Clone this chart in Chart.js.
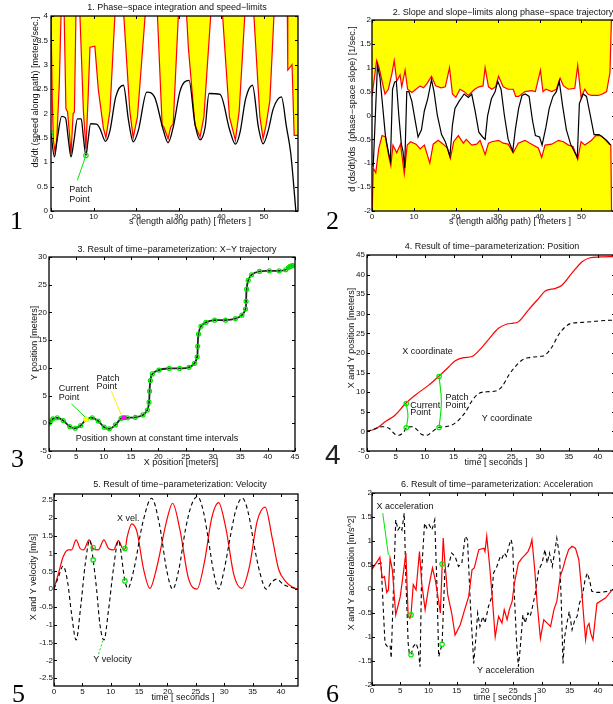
<!DOCTYPE html>
<html>
<head>
<meta charset="utf-8">
<script src="https://cdn.jsdelivr.net/npm/chart.js@4.4.1/dist/chart.umd.min.js"></script>
<style>
html, body { margin: 0; padding: 0; background: #fff; }
body { width: 613px; height: 704px; overflow: hidden; position: relative; }
canvas { position: absolute; }
.num { position: absolute; font-family: "Liberation Serif", "Times New Roman", serif; font-size: 26px; line-height: 26px; color: #000; }
</style>
</head>
<body>
<canvas id="c1" width="306" height="235" style="left:0;top:0"></canvas>
<canvas id="c2" width="320" height="235" style="left:306px;top:0"></canvas>
<canvas id="c3" width="306" height="235" style="left:0;top:235px"></canvas>
<canvas id="c4" width="320" height="235" style="left:306px;top:235px"></canvas>
<canvas id="c5" width="306" height="234" style="left:0;top:470px"></canvas>
<canvas id="c6" width="320" height="234" style="left:306px;top:470px"></canvas>
<div class="num" style="left:10px;top:208px">1</div>
<div class="num" style="left:326px;top:208px">2</div>
<div class="num" style="left:11px;top:446px">3</div>
<div class="num" style="left:325px;top:442px;font-family:'Liberation Sans',Arial,sans-serif;font-size:28px;color:#222">4</div>
<div class="num" style="left:12px;top:681px">5</div>
<div class="num" style="left:326px;top:681px">6</div>
<script>
// ---- panel 1: speed along path vs s ----
const p1Speed = [[0,1.6],[0.8,1.11],[1.5,1.5],[2.5,1.94],[3.4,1.91],[4.1,1.45],[4.7,1.11],[5.4,1.45],[6.2,1.89],[7.1,1.89],[7.6,1.52],[8.2,1.14],[8.7,1.45],[9.3,1.79],[10.7,1.78],[11.5,1.69],[12.8,1.43],[13.85,1.65],[15.2,2.34],[17.0,2.58],[18.2,1.86],[19.3,1.42],[20.5,1.65],[22.5,2.44],[24.3,2.34],[26.4,1.65],[27.5,1.40],[28.7,1.72],[30.3,2.46],[32.4,2.68],[33.8,1.79],[35.0,1.46],[36.2,1.72],[37.1,2.41],[39.7,2.39],[42.0,1.65],[43.3,1.37],[44.4,1.62],[45.7,2.30],[47.3,2.58],[48.7,1.72],[49.8,1.38],[51.0,1.65],[52.2,2.10],[54.1,2.34],[55.3,1.72],[56.3,1.18],[57.5,0]];
const p1Limit = [[0,4],[0.3,2.27],[0.55,1.45],[0.95,1.21],[1.35,1.45],[1.95,2.61],[2.35,4],[2.7,6],[3.1,4],[3.5,2.1],[3.9,2.03],[4.7,1.18],[5.2,2.0],[5.5,2.03],[5.85,4],[6.35,6],[6.8,4],[7.6,2.06],[8.2,1.28],[8.7,2.3],[9.15,3.36],[10.3,3.38],[11.1,2.5],[12.3,1.7],[12.9,1.5],[13.85,2.06],[15.0,4],[16.0,6],[17.1,4],[18.5,2.06],[19.3,1.5],[20.3,1.93],[22.1,4],[23.5,6],[25.0,4],[26.1,1.76],[26.5,1.72],[27.5,1.48],[28.1,1.72],[28.7,1.79],[29.9,4],[30.9,6],[31.85,4],[32.25,3.36],[33.8,1.76],[35.0,1.52],[35.9,1.93],[37.5,4],[38.9,6],[40.3,4],[41.9,1.93],[43.3,1.45],[44.2,2.06],[45.5,4],[46.6,6],[47.65,4],[49.05,1.93],[49.8,1.48],[50.5,1.76],[51.4,2.27],[52.35,4],[53.9,6],[55.5,4],[55.6,2.89],[56.6,3.0],[57.1,1.55],[58,1.55]];
const p1Marks = [[0,1.6],[8.2,1.14]];
const p1Pointer = [[8.2,1.14],[6.2,0.63]];
const p1XTicks = [0,10,20,30,40,50];
const p1YTicks = [0,0.5,1,1.5,2,2.5,3,3.5,4];

// ---- panel 2: slope and slope limits ----
const p2Upper = [[0,0.4],[1.1,1.15],[1.7,1.0],[2.4,0.72],[3.1,0.45],[3.9,0.55],[4.8,0.9],[5.3,1.15],[5.9,0.72],[6.7,0.85],[7.1,0.6],[7.9,0.95],[8.5,0.55],[9.5,0.48],[10.5,0.55],[11.5,0.62],[12.3,0.58],[13.2,0.68],[14.2,0.82],[15.2,0.62],[16.5,0.58],[17.5,0.6],[18.5,1.0],[19.2,0.45],[20.0,0.38],[21.0,0.55],[22.0,0.5],[23.0,0.42],[24.5,0.55],[25.5,0.6],[26.5,0.62],[27.0,1.0],[27.8,0.6],[28.6,0.55],[29.5,0.6],[30.2,0.82],[31.3,0.6],[32.5,0.55],[33.7,0.55],[34.3,0.4],[35.0,0.4],[36.5,0.5],[38.1,0.52],[39.0,0.5],[40.2,0.95],[40.8,0.5],[41.5,0.55],[42.9,0.5],[44.0,0.55],[44.9,0.78],[45.7,0.62],[46.9,0.55],[48.4,0.57],[49.1,1.05],[49.9,0.38],[50.8,0.55],[51.5,0.45],[52.4,0.42],[54.0,0.42],[55.0,0.45],[56.0,0.5],[56.8,0.9],[57.2,2.2]];
const p2Lower = [[0,-2.2],[0.3,-1.1],[0.9,-1.2],[1.6,-0.7],[2.4,-0.42],[3.2,-0.45],[4.0,-0.85],[4.5,-1.05],[5.0,-0.62],[5.9,-0.78],[6.8,-0.6],[7.7,-1.22],[8.4,-0.62],[9.2,-0.55],[10.5,-0.6],[11.5,-0.7],[12.5,-0.62],[13.8,-1.0],[14.6,-0.6],[15.8,-0.52],[17.0,-0.6],[18.0,-0.68],[18.7,-0.9],[19.5,-0.55],[20.6,-0.42],[21.8,-0.58],[22.5,-0.5],[23.8,-0.62],[25.0,-0.6],[25.8,-0.52],[27.0,-0.82],[27.8,-0.58],[28.6,-0.55],[30.2,-0.52],[31.3,-0.58],[32.5,-0.6],[33.7,-0.78],[34.9,-0.58],[36.5,-0.52],[38.1,-0.6],[39.7,-0.68],[40.5,-0.88],[41.3,-0.62],[42.9,-0.6],[44.5,-0.52],[45.7,-0.55],[46.9,-0.62],[48.0,-0.65],[49.1,-0.92],[49.9,-0.55],[50.8,-0.62],[52.4,-0.52],[53.4,-0.42],[54.6,-0.42],[55.6,-0.5],[56.6,-0.6],[57.0,-0.62],[57.2,-2.2]];
const p2Slope = [[0,-1.0],[0.3,-1.05],[1.3,1.05],[1.9,0.8],[3.2,-0.42],[3.6,-0.62],[4.0,-0.8],[4.4,-0.95],[4.9,0.55],[5.4,0.7],[5.8,0.72],[6.4,0.0],[7.0,-0.6],[7.4,-0.75],[7.8,-1.1],[8.3,0.5],[8.8,0.5],[9.5,0.3],[10.3,-0.1],[11.0,-0.45],[11.8,-0.3],[12.5,0.1],[13.3,0.35],[14.2,0.75],[14.8,0.5],[15.6,0.0],[16.6,-0.4],[17.5,-0.55],[18.6,-0.85],[19.2,-0.2],[19.8,0.15],[20.8,0.3],[22.0,0.45],[23.0,0.38],[23.8,0.45],[24.6,0.1],[25.5,-0.35],[26.4,-0.45],[27.0,-0.5],[27.6,0.0],[28.5,0.35],[29.4,0.5],[30.0,0.72],[30.8,0.55],[31.6,0.0],[32.5,-0.5],[33.6,-0.75],[34.2,-0.3],[35.0,0.15],[35.8,0.42],[36.6,0.45],[37.5,0.4],[38.3,-0.1],[39.0,-0.42],[40.0,-0.45],[40.6,-0.62],[41.5,-0.25],[42.3,0.15],[43.2,0.4],[44.0,0.5],[44.7,0.72],[45.5,0.2],[46.4,-0.3],[47.4,-0.6],[49.0,-0.88],[49.5,0.25],[50.4,0.45],[51.2,0.4],[52.0,0.05],[53.0,-0.4],[54.2,-0.4],[55.0,-0.45],[56.0,-0.52],[57.0,-0.62]];
const p2XTicks = [0,10,20,30,40,50];
const p2YTicks = [-2,-1.5,-1,-0.5,0,0.5,1,1.5,2];

// ---- panel 3: X-Y trajectory (samples at constant time intervals) ----
const p3Path = [[0,0],[0.25,0.3],[0.7,0.8],[1.5,1.0],[2.6,0.5],[3.8,-0.6],[4.8,-0.9],[5.8,-0.4],[6.8,0.7],[7.9,1.0],[9.0,0.4],[10.1,-0.7],[11.05,-1.0],[12.15,-0.3],[13.2,0.9],[13.7,1.0],[14.35,1.0],[15.8,1.07],[17.2,1.5],[18.0,2.4],[18.3,3.8],[18.4,5.8],[18.55,7.7],[18.9,8.9],[20.1,9.6],[22.0,9.9],[23.9,9.9],[25.6,10.1],[26.6,10.8],[27.1,12.0],[27.2,13.9],[27.35,16.1],[27.8,17.5],[28.7,18.2],[30.3,18.6],[32.3,18.6],[34.1,18.9],[35.3,19.5],[35.95,20.6],[36.05,22.0],[36.15,24.2],[36.45,25.8],[37.05,26.8],[38.5,27.4],[40.3,27.5],[42.1,27.5],[43.3,27.7],[43.8,28.1],[44.1,28.3],[44.4,28.4],[44.6,28.45]];
const p3Current = [[6.8,0.7]];
const p3Patch = [[13.7,1.0]];
const p3CurrentPointer = [[4.1,3.5],[6.95,0.8]];
const p3PatchPointer = [[11.4,5.8],[13.4,1.1]];
const p3XTicks = [0,5,10,15,20,25,30,35,40,45];
const p3YTicks = [-5,0,5,10,15,20,25,30];

// ---- panel 4: position vs time ----
const p4X = [[0,0],[1.7,0.8],[3.2,2.5],[4.9,4.2],[6.6,7.0],[8.4,9.3],[10.7,11.8],[12.4,14.0],[14.2,16.5],[15.3,18.0],[16.8,18.8],[18.2,19.1],[19.4,20.6],[21.1,23.5],[22.8,26.3],[24.3,27.4],[25.4,27.6],[26.3,28.0],[28.0,31.0],[29.8,34.0],[30.9,35.8],[32.7,36.5],[33.8,37.3],[35.5,40.3],[37.3,43.3],[38.7,44.3],[40.2,44.5],[43,44.6]];
const p4Y = [[0,0],[0.9,0.4],[2.6,1.2],[3.8,0.8],[4.9,-0.8],[5.5,-1.0],[6.4,-0.1],[6.9,1.0],[7.8,1.2],[8.7,0.4],[9.5,-0.8],[10.4,-1.0],[11.3,-0.1],[12.4,1.0],[13.6,1.2],[14.7,1.6],[15.9,2.9],[17.1,5.0],[18.2,7.8],[19.4,9.7],[20.8,10.1],[22.3,10.3],[23.4,11.4],[24.6,14.4],[25.7,16.5],[26.9,18.2],[28.0,18.8],[29.8,19.1],[30.9,19.5],[32.1,21.6],[33.2,24.6],[34.4,26.7],[35.5,27.6],[37.3,27.8],[39.0,28.0],[40.2,28.2],[43,28.4]];
const p4Marks = [[6.8,7.1],[6.8,0.95],[12.5,14.0],[12.5,1.0]];
const p4CurrentLink = [[6.8,7.1],[7.1,4.0],[6.8,0.95]];
const p4PatchLink = [[12.5,14.0],[12.9,7.5],[12.5,1.0]];
const p4XTicks = [0,5,10,15,20,25,30,35,40];
const p4YTicks = [-5,0,5,10,15,20,25,30,35,40,45];

// ---- panel 5: velocity vs time ----
const p5X = [[0,0.02],[0.8,0.45],[1.65,0.92],[2.5,1.1],[3.1,1.1],[3.9,1.38],[4.6,1.14],[5.2,1.1],[6.2,1.38],[6.9,1.14],[7.8,1.1],[8.8,1.38],[9.6,1.14],[10.5,1.1],[11.35,1.36],[12.1,1.14],[12.5,1.12],[12.9,1.47],[13.7,1.83],[14.6,1.62],[15.8,0.55],[16.9,0.02],[18.1,0.6],[19.9,1.95],[20.9,2.41],[22.2,1.66],[23.7,0.3],[25.2,0.0],[26.5,0.75],[27.8,2.0],[29.0,2.43],[30.3,1.7],[31.7,0.4],[33.1,0.02],[34.4,0.6],[35.8,1.9],[37.2,2.3],[38.5,1.4],[39.6,0.55],[40.8,0.22],[42,0.06],[43,0.0]];
const p5Y = [[0,0],[0.8,0.35],[1.6,0.65],[2.4,0.2],[3.1,-0.7],[3.9,-1.43],[4.7,-0.5],[5.5,0.7],[6.3,1.38],[6.9,0.82],[7.5,0.0],[8.1,-1.0],[8.8,-1.43],[9.6,-0.6],[10.5,0.6],[11.35,1.36],[12.5,0.23],[13.0,0.02],[14.0,0.5],[15.7,1.9],[17.2,2.55],[18.6,1.8],[19.9,0.5],[20.9,0.0],[22.0,0.55],[23.2,1.7],[24.2,2.35],[25.3,2.6],[26.3,2.2],[27.2,1.4],[28.1,0.5],[29.0,0.0],[30.0,0.55],[31.1,1.5],[32.1,2.25],[33.2,2.55],[34.3,2.1],[35.3,1.2],[36.3,0.45],[37.4,0.0],[38.4,0.2],[39.2,0.28],[40.5,0.12],[42,0.04],[43,0.0]];
const p5Marks = [[6.9,1.17],[6.9,0.82],[12.5,1.14],[12.5,0.23]];
const p5Pointer = [[8.6,-1.45],[7.8,-1.85]];
const p5XTicks = [0,5,10,15,20,25,30,35,40];
const p5YTicks = [-2.5,-2,-1.5,-1,-0.5,0,0.5,1,1.5,2,2.5];

// ---- panel 6: acceleration vs time ----
const p6X = [[0,0.41],[1.4,0.66],[1.8,0.23],[2.2,0.26],[2.6,-0.07],[2.9,-0.02],[3.2,0.64],[3.6,0.4],[4.2,-0.54],[5.0,-0.16],[5.7,0.47],[6.0,0.75],[6.4,-0.57],[6.7,-0.61],[6.9,-0.54],[7.3,0.09],[7.8,-0.02],[8.4,0.78],[8.8,0.12],[9.4,-0.43],[10.0,0.02],[10.7,0.44],[11.2,0.19],[11.8,-0.26],[12.1,-0.5],[12.6,1.06],[12.9,0.54],[13.4,-0.12],[14.1,-0.5],[14.7,-0.96],[15.6,-0.75],[16.4,-0.43],[17.1,-0.16],[17.7,0.4],[18.1,0.44],[18.9,0.82],[19.8,0.85],[20.0,0.78],[20.3,1.1],[20.8,0.5],[21.2,-0.05],[21.8,-1.0],[22.4,-0.57],[23.0,-0.71],[23.4,-0.43],[23.9,-0.64],[24.3,-0.43],[24.8,-0.26],[25.2,0.12],[25.9,0.54],[26.5,0.64],[27.1,0.71],[27.6,0.78],[28.0,0.89],[28.3,1.03],[28.8,0.4],[29.2,-0.26],[29.8,-1.03],[30.4,-0.64],[31.0,-0.71],[31.6,-0.78],[32.2,-0.43],[32.7,-0.26],[33.3,0.26],[33.9,0.47],[34.2,0.61],[34.8,0.82],[35.4,0.89],[36.0,0.85],[36.6,0.61],[37.1,-0.02],[37.5,-0.64],[37.8,-1.06],[38.1,-0.78],[38.4,-0.72],[38.7,-0.92],[39.1,-1.06],[39.8,-0.3],[41.3,-0.19],[42.5,-0.02],[43,0.0]];
const p6Y = [[0,0.45],[0.5,0.5],[1.6,0.54],[2.3,-1.13],[2.7,-1.2],[3.2,-1.17],[3.4,-1.44],[4.2,1.44],[4.6,1.23],[5.0,1.3],[5.3,1.23],[5.7,1.58],[6.0,0.19],[6.4,-1.13],[6.6,-1.34],[6.9,-1.37],[7.3,-1.2],[7.8,-1.13],[8.2,-1.27],[8.5,-1.62],[8.8,0.4],[9.3,1.37],[9.7,1.27],[10.1,1.34],[10.6,1.23],[11.1,1.44],[11.5,0.05],[11.8,-1.41],[12.4,-1.15],[12.9,0.4],[13.5,0.47],[14.1,0.75],[14.7,0.68],[15.3,0.47],[15.9,0.54],[16.5,1.1],[16.9,1.03],[17.4,-0.3],[17.7,-0.92],[18.0,-1.55],[18.4,-0.99],[18.7,-0.5],[19.1,-0.78],[19.6,-0.57],[20.0,-0.71],[20.6,-0.37],[21.2,-0.16],[21.5,0.33],[22.1,0.47],[22.7,0.68],[23.0,0.64],[23.4,0.75],[23.8,0.68],[24.2,0.89],[24.6,1.03],[24.9,0.89],[25.2,-0.16],[25.6,-1.13],[25.9,-1.62],[26.2,-1.27],[26.7,-0.54],[27.1,-0.71],[27.6,-0.5],[28.0,-0.57],[28.4,-0.37],[28.9,-0.09],[29.5,0.4],[30.1,0.54],[30.6,0.82],[31.0,0.54],[31.4,0.75],[31.9,0.47],[32.3,0.75],[32.7,1.06],[33.2,0.68],[33.5,-0.3],[33.8,-1.55],[34.1,-0.99],[34.5,-0.71],[34.9,-0.47],[35.4,-0.85],[35.9,-0.64],[36.3,-0.57],[36.7,-0.3],[37.2,-0.16],[37.7,0.19],[38.1,0.33],[38.5,0.19],[38.9,-0.05],[39.5,-0.07],[40.4,-0.07],[41.6,-0.05],[42.5,-0.02],[43,0.0]];
const p6Marks = [[6.9,-0.54],[6.9,-1.37],[12.4,0.52],[12.4,-1.15]];
const p6Pointer = [[1.9,1.58],[2.9,0.71]];
const p6XTicks = [0,5,10,15,20,25,30,35,40];
const p6YTicks = [-2,-1.5,-1,-0.5,0,0.5,1,1.5,2];

const FONT = '"Liberation Sans", Arial, Helvetica, sans-serif';
const RED = '#ff0000', GREEN = '#00e600', YELLOW = '#ffff00', BLACK = '#000000';

function pts(a) { return a.map(p => ({ x: p[0], y: p[1] })); }

function line(data, color, extra) {
  return Object.assign({ data: pts(data), borderColor: color, backgroundColor: color,
    borderWidth: 1.2, pointRadius: 0, fill: false, tension: 0 }, extra || {});
}

function marks(data, color, r, filled, style) {
  return { data: pts(data), showLine: false, pointRadius: r, pointStyle: style || 'circle',
    pointBorderColor: color, pointBackgroundColor: filled ? color : 'rgba(0,0,0,0)',
    pointBorderWidth: 1.2, borderColor: color, backgroundColor: color };
}

// box, inward ticks on all four sides, title, axis labels and notes
function decor(cfg) {
  return {
    id: 'decor',
    afterDraw(chart) {
      const ctx = chart.ctx, a = chart.chartArea, xs = chart.scales.x, ys = chart.scales.y;
      ctx.save();
      ctx.strokeStyle = '#000';
      ctx.lineWidth = 1;
      ctx.beginPath();
      xs.ticks.forEach(t => {
        const p = Math.round(xs.getPixelForValue(t.value)) + 0.5;
        ctx.moveTo(p, a.bottom); ctx.lineTo(p, a.bottom - 3);
        ctx.moveTo(p, a.top); ctx.lineTo(p, a.top + 3);
      });
      ys.ticks.forEach(t => {
        const p = Math.round(ys.getPixelForValue(t.value)) + 0.5;
        ctx.moveTo(a.left, p); ctx.lineTo(a.left + 3, p);
        ctx.moveTo(a.right, p); ctx.lineTo(a.right - 3, p);
      });
      ctx.stroke();
      ctx.lineWidth = 1.3;
      ctx.strokeRect(a.left, a.top, a.right - a.left, a.bottom - a.top);

      ctx.fillStyle = '#111';
      ctx.font = '9px ' + FONT;
      ctx.textAlign = 'center';
      ctx.textBaseline = 'middle';
      ctx.fillText(cfg.title, cfg.titlePos[0], cfg.titlePos[1]);
      ctx.fillText(cfg.xLabel, cfg.xLabelPos[0], cfg.xLabelPos[1]);
      ctx.save();
      ctx.translate(cfg.yLabelPos[0], cfg.yLabelPos[1]);
      ctx.rotate(-Math.PI / 2);
      ctx.fillText(cfg.yLabel, 0, 0);
      ctx.restore();
      ctx.textAlign = 'left';
      (cfg.notes || []).forEach(n => {
        ctx.fillText(n[0], xs.getPixelForValue(n[1]), ys.getPixelForValue(n[2]));
      });
      ctx.restore();
    }
  };
}

function axis(min, max, tickVals, pad, fitFn) {
  return {
    type: 'linear', min: min, max: max,
    grid: { display: false, drawTicks: false, tickLength: 0 }, border: { display: false },
    afterBuildTicks: s => { s.ticks = tickVals.map(v => ({ value: v })); },
    afterFit: fitFn,
    ticks: { padding: pad, font: { size: 8, family: FONT }, color: '#111',
      maxRotation: 0, autoSkip: false, callback: v => String(Math.round(v * 100) / 100) }
  };
}

function makeChart(id, datasets, ax, cfg) {
  new Chart(document.getElementById(id), {
    type: 'line',
    data: { datasets: datasets },
    options: {
      responsive: false, animation: false, events: [],
      layout: { padding: { top: ax.top, right: ax.right, left: 0, bottom: 0 } },
      plugins: { legend: { display: false }, tooltip: { enabled: false }, title: { display: false } },
      scales: {
        x: axis(ax.xMin, ax.xMax, ax.xTicks, 1, s => { s.height = ax.bottom; }),
        y: axis(ax.yMin, ax.yMax, ax.yTicks, ax.yPad, s => { s.width = ax.left; })
      }
    },
    plugins: [decor(cfg)]
  });
}

// panel 1
makeChart('c1', [
  marks(p1Marks, GREEN, 2.2, false),
  line(p1Pointer, GREEN, { borderWidth: 1 }),
  line(p1Speed, BLACK, { borderWidth: 1.3, cubicInterpolationMode: 'monotone' }),
  line(p1Limit, RED, { fill: 'end', backgroundColor: YELLOW })
], { left: 51, top: 16, right: 8, bottom: 24, yPad: 3,
     xMin: 0, xMax: 58, xTicks: p1XTicks, yMin: 0, yMax: 4, yTicks: p1YTicks },
{ title: '1. Phase\u2212space integration and speed\u2212limits', titlePos: [177, 8],
  xLabel: 's (length along path) [ meters ]', xLabelPos: [190, 222],
  yLabel: 'ds/dt (speed along path) [meters/sec.]', yLabelPos: [36, 92],
  notes: [['Patch', 4.3, 0.45], ['Point', 4.3, 0.24]] });

// panel 2
makeChart('c2', [
  line(p2Slope, BLACK, { borderWidth: 1.2 }),
  line(p2Upper, RED, { fill: 'end', backgroundColor: YELLOW }),
  line(p2Lower, RED, { fill: 'start', backgroundColor: YELLOW })
], { left: 66, top: 20, right: 11, bottom: 24, yPad: 1,
     xMin: 0, xMax: 58, xTicks: p2XTicks, yMin: -2, yMax: 2, yTicks: p2YTicks },
{ title: '2. Slope and slope\u2212limits along phase\u2212space trajectory', titlePos: [197, 13],
  xLabel: 's (length along path) [ meters ]', xLabelPos: [204, 222],
  yLabel: 'd (ds/dt)/ds  (phase\u2212space slope) [1/sec.]', yLabelPos: [47, 109] });

// panel 3
makeChart('c3', [
  marks(p3Current, '#ffff00', 2.5, true, 'rect'),
  marks(p3Patch, '#ff00ff', 2.5, true, 'rect'),
  line(p3CurrentPointer, GREEN, { borderWidth: 1 }),
  line(p3PatchPointer, '#ffee00', { borderWidth: 1 }),
  marks(p3Path, GREEN, 2, false),
  line(p3Path, '#222222', { borderWidth: 1.8, tension: 0.4 })
], { left: 49, top: 22, right: 11, bottom: 19, yPad: 2,
     xMin: 0, xMax: 45, xTicks: p3XTicks, yMin: -5, yMax: 30, yTicks: p3YTicks },
{ title: '3. Result of time\u2212parameterization: X\u2212Y trajectory', titlePos: [177, 15],
  xLabel: 'X position [meters]', xLabelPos: [181, 228],
  yLabel: 'Y position [meters]', yLabelPos: [35, 108],
  notes: [['Current', 1.8, 6.2], ['Point', 1.8, 4.6], ['Patch', 8.7, 8.1], ['Point', 8.7, 6.6],
          ['Position shown at constant time intervals', 4.9, -2.7]] });

// panel 4
makeChart('c4', [
  marks(p4Marks, GREEN, 2.2, false),
  line(p4CurrentLink, GREEN, { borderWidth: 1.1, tension: 0.4 }),
  line(p4PatchLink, GREEN, { borderWidth: 1.1, tension: 0.4 }),
  line(p4Y, BLACK, { borderWidth: 1.1, borderDash: [4, 3], cubicInterpolationMode: 'monotone' }),
  line(p4X, RED, { borderWidth: 1.2, cubicInterpolationMode: 'monotone' })
], { left: 61, top: 20, right: 11, bottom: 19, yPad: 2,
     xMin: 0, xMax: 43, xTicks: p4XTicks, yMin: -5, yMax: 45, yTicks: p4YTicks },
{ title: '4. Result of time\u2212parameterization: Position', titlePos: [186, 12],
  xLabel: 'time [ seconds ]', xLabelPos: [190, 228],
  yLabel: 'X and Y position [meters]', yLabelPos: [46, 103],
  notes: [['X coordinate', 6.1, 20.3], ['Current', 7.5, 6.7], ['Point', 7.5, 4.7],
          ['Patch', 13.6, 8.6], ['Point', 13.6, 6.6], ['Y coordinate', 19.9, 3.3]] });

// panel 5
makeChart('c5', [
  marks(p5Marks, GREEN, 2.2, false),
  line(p5Pointer, GREEN, { borderWidth: 1, borderDash: [2, 2] }),
  line(p5Y, BLACK, { borderWidth: 1.1, borderDash: [4, 3], cubicInterpolationMode: 'monotone' }),
  line(p5X, RED, { borderWidth: 1.2, cubicInterpolationMode: 'monotone' })
], { left: 54, top: 24, right: 8, bottom: 18, yPad: 1,
     xMin: 0, xMax: 43, xTicks: p5XTicks, yMin: -2.72, yMax: 2.67, yTicks: p5YTicks },
{ title: '5. Result of time\u2212parameterization: Velocity', titlePos: [180, 15],
  xLabel: 'time [ seconds ]', xLabelPos: [183, 228],
  yLabel: 'X and Y velocity [m/s]', yLabelPos: [34, 107],
  notes: [['X vel.', 11.1, 1.99], ['Y velocity', 6.9, -1.99]] });

// panel 6
makeChart('c6', [
  marks(p6Marks, GREEN, 2.2, false),
  line(p6Pointer, GREEN, { borderWidth: 1 }),
  line(p6X, RED, { borderWidth: 1.2 }),
  line(p6Y, BLACK, { borderWidth: 1.1, borderDash: [4, 3] })
], { left: 66, top: 23, right: 11, bottom: 19, yPad: 0,
     xMin: 0, xMax: 43, xTicks: p6XTicks, yMin: -2, yMax: 2, yTicks: p6YTicks },
{ title: '6. Result of time\u2212parameterization: Acceleration', titlePos: [191, 15],
  xLabel: 'time [ seconds ]', xLabelPos: [199, 228],
  yLabel: 'X and Y acceleration [m/s^2]', yLabelPos: [46, 103],
  notes: [['X acceleration', 0.8, 1.72], ['Y acceleration', 18.6, -1.7]] });
</script>
</body>
</html>
